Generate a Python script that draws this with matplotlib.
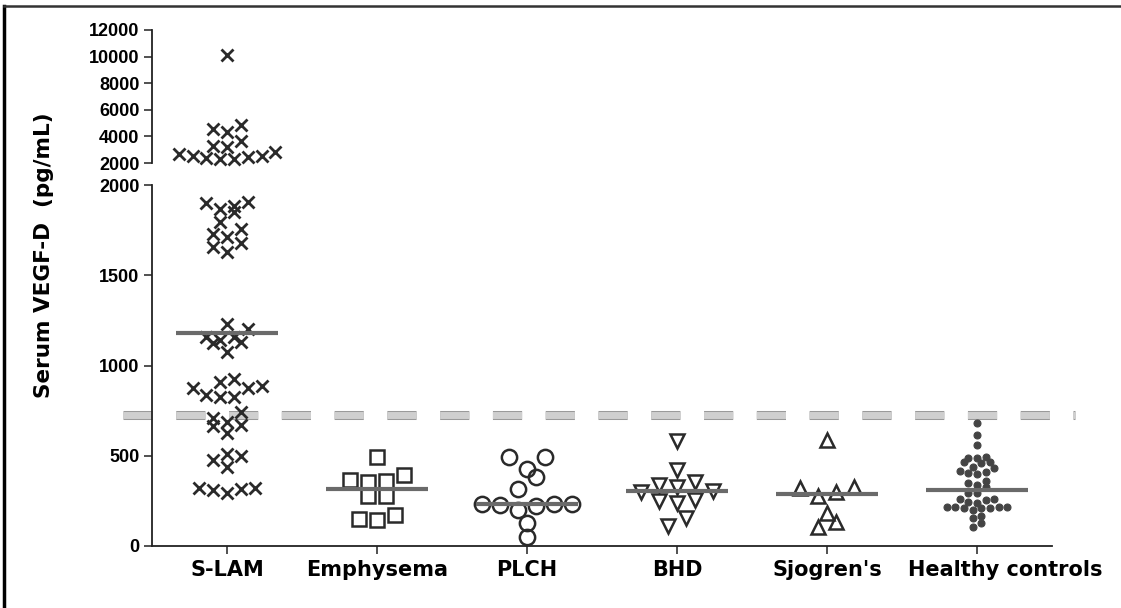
import numpy as np
import matplotlib
matplotlib.use("Agg")
import matplotlib.pyplot as plt
from matplotlib.lines import Line2D
from matplotlib.transforms import ScaledTranslation
import matplotlib.patheffects as pe

plt.rcParams["font.family"] = ["Liberation Sans", "DejaVu Sans"]

# 数据 (pg/mL)
groups = ["S-LAM", "Emphysema", "PLCH", "BHD", "Sjogren's", "Healthy controls"]
slam = [10100, 4850, 4560, 4330, 3650, 3280, 3200, 2830, 2680, 2520, 2520, 2450, 2370, 2300, 2300,
        1907, 1898, 1884, 1865, 1852, 1797, 1755, 1729, 1714, 1677, 1655, 1631,
        1230, 1200, 1160, 1160, 1141, 1132, 1123, 1077,
        924, 910, 886, 874, 874, 837, 827, 827,
        744, 707, 689, 670, 665, 624,
        510, 498, 476, 439,
        320, 320, 314, 310, 295]
emphysema = [491, 393, 366, 360, 353, 277, 277, 172, 150, 144]
plch = [491, 491, 427, 384, 316, 231, 231, 231, 227, 222, 199, 126, 52]
bhd = [583, 421, 353, 338, 329, 305, 301, 255, 251, 237, 153, 111]
sjogren = [587, 329, 320, 301, 277, 181, 135, 107]
healthy = [683, 615, 560, 491, 486, 486, 467, 467, 458, 439, 430, 417, 412, 406, 399,
           362, 351, 338, 325, 292, 292, 259, 259, 255, 245, 240, 218, 214, 214, 214,
           209, 209, 209, 199, 166, 153, 129, 107]
cutoff = 725
values = [slam, emphysema, plch, bhd, sjogren, healthy]

# 样式
styles = [
    dict(marker="x", ms=9, mew=2.0, color="#2a2a2a"),
    dict(marker="s", ms=10, mew=1.8, mfc="none", color="#2a2a2a"),
    dict(marker="o", ms=11, mew=1.8, mfc="none", color="#2a2a2a"),
    dict(marker="v", ms=10, mew=1.8, mfc="none", color="#2a2a2a"),
    dict(marker="^", ms=10, mew=1.8, mfc="none", color="#2a2a2a"),
    dict(marker="o", ms=5, mew=0.8, color="#444444"),
]
steps = [0.092, 0.12, 0.12, 0.12, 0.12, 0.058]
row_lo = [60, 72, 72, 72, 72, 40]


def swarm(vals, row_h, step):
    """按行排列散点 (类似 Prism)"""
    vals = np.asarray(vals, float)
    x = np.zeros(len(vals))
    if len(vals) == 0:
        return x
    idx = np.argsort(vals)
    rows, cur = [], [idx[0]]
    for i in idx[1:]:
        if vals[i] - vals[cur[0]] < row_h:
            cur.append(i)
        else:
            rows.append(cur)
            cur = [i]
    rows.append(cur)
    for r in rows:
        n = len(r)
        slots = np.arange(n) - (n - 1) / 2
        slots = slots[np.argsort(np.abs(slots), kind="stable")]
        x[r] = slots * step
    return x


fig = plt.figure(figsize=(11.21, 6.08), dpi=100)
ax_lo = fig.add_axes([152 / 1121, 62 / 608, 900 / 1121, 361 / 608])
ax_hi = fig.add_axes([152 / 1121, 445 / 608, 900 / 1121, 133 / 608], sharex=ax_lo)

ink = "#222222"
for ax in (ax_lo, ax_hi):
    ax.spines["top"].set_visible(False)
    ax.spines["right"].set_visible(False)
    ax.spines["left"].set_color(ink)
    ax.spines["left"].set_linewidth(1.3)
    ax.tick_params(axis="y", direction="out", length=6, width=1.1, colors=ink, pad=3)
ax_hi.spines["bottom"].set_visible(False)
ax_hi.tick_params(axis="x", bottom=False, labelbottom=False)
ax_lo.spines["bottom"].set_color(ink)
ax_lo.spines["bottom"].set_linewidth(1.3)

ax_lo.set_xlim(-0.5, 5.5)
ax_lo.set_ylim(0, 2000)
ax_hi.set_ylim(2000, 12000)
ax_lo.set_yticks([0, 500, 1000, 1500, 2000])
ax_hi.set_yticks([2000, 4000, 6000, 8000, 10000, 12000])
ax_lo.set_xticks(range(len(groups)))
ax_lo.set_xticklabels(groups)
ax_lo.tick_params(axis="x", direction="out", length=6, width=1.1, colors=ink, pad=4)
for lab in ax_lo.get_yticklabels() + ax_hi.get_yticklabels():
    lab.set_color("black")
    lab.set_fontsize(13)
    lab.set_fontweight("bold")
for lab in ax_lo.get_xticklabels():
    lab.set_color("black")
    lab.set_family(["DejaVu Sans"])
    lab.set_fontsize(15)
    lab.set_fontweight("bold")
# 最后一个标签在原图中稍向右偏
last = ax_lo.get_xticklabels()[-1]
last.set_transform(last.get_transform() + ScaledTranslation(0.28, 0, fig.dpi_scale_trans))

for i, (vals, st) in enumerate(zip(values, styles)):
    v = np.asarray(vals, float)
    lo = v[v <= 2000]
    hi = v[v > 2000]
    ax_lo.plot(i + swarm(lo, row_lo[i], steps[i]), lo, ls="none", clip_on=False, zorder=3, **st)
    if len(hi):
        ax_hi.plot(i + swarm(hi, 830, steps[i]), hi, ls="none", clip_on=False, zorder=3, **st)
    med = np.median(v)
    ax_lo.plot([i - 0.34, i + 0.34], [med, med], color="#6a6a6a", lw=3, zorder=4,
               solid_capstyle="butt")

# 阈值虚线
ax_lo.plot([-0.693, 5.65], [cutoff, cutoff], color="#cfcfcf", lw=5, ls=(0, (4.2, 3.4)),
           clip_on=False, zorder=1,
           path_effects=[pe.Stroke(linewidth=6.5, foreground="#9a9a9a"), pe.Normal()])

fig.text(44 / 1121, 1 - 255 / 608, "Serum VEGF-D  (pg/mL)", rotation=90, ha="center", va="center",
         fontsize=15.5, fontweight="bold", family=["DejaVu Sans"])

# 外框
fig.add_artist(Line2D([4 / 1121, 4 / 1121], [0, 1 - 6 / 608], transform=fig.transFigure,
                      color="black", lw=2.5))
fig.add_artist(Line2D([4 / 1121, 1], [1 - 6 / 608, 1 - 6 / 608], transform=fig.transFigure,
                      color="#333333", lw=1.8))

fig.savefig("out.png", dpi=100)
